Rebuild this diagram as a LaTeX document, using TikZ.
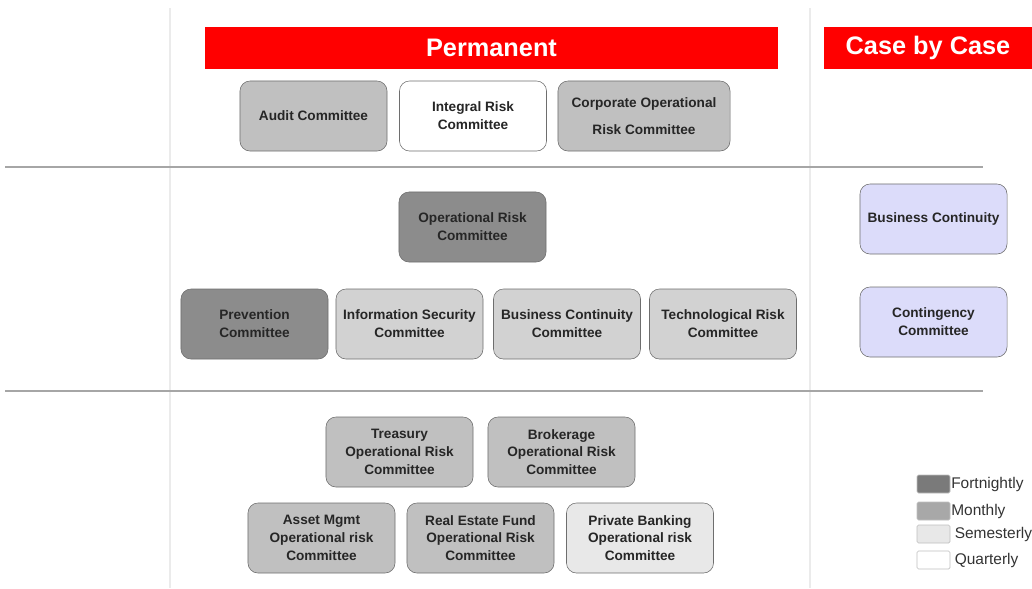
\documentclass[tikz,border=0pt]{standalone}
\usepackage{fontspec}
\setmainfont{Liberation Sans}
\usetikzlibrary{positioning}
\definecolor{barred}{HTML}{FF0000}
\definecolor{fortnight}{HTML}{8C8C8C}
\definecolor{monthly}{HTML}{C0C0C0}
\definecolor{monthlylight}{HTML}{D2D2D2}
\definecolor{semester}{HTML}{E8E8E8}
\definecolor{casebox}{HTML}{DCDCFA}
\definecolor{boxline}{HTML}{6E6E6E}
\definecolor{keydark}{HTML}{7A7A7A}
\definecolor{keymid}{HTML}{A8A8A8}
\tikzset{comm/.style = {draw=boxline, rounded corners=0.25cm,
                        minimum width=3.675cm, minimum height=1.75cm,
                        align=center, inner sep=1pt, text=black!85,
                        font=\fontsize{9.7}{12.7}\selectfont\bfseries}}
\tikzset{banner/.style = {fill=barred, text=white, inner sep=0,
                          minimum height=1.05cm,
                          font=\fontsize{18}{20}\selectfont\bfseries}}
\tikzset{sep/.style = {draw=black!35, line width=1.5pt}}
\tikzset{colline/.style = {draw=black!8, line width=0.8pt}}
\tikzset{swatch/.style = {draw=black!25, rounded corners=1pt, inner sep=0,
                          minimum width=0.825cm, minimum height=0.45cm}}
\tikzset{legtext/.style = {font=\fontsize{11}{12}\selectfont, text=black!80,
                           inner sep=0, anchor=west}}

\begin{document}
\begin{tikzpicture}[x=0.025cm, y=-0.025cm]
      \useasboundingbox (0, 0) rectangle (1032, 588);
      % column and row rules
      \draw [colline] (170, 8) -- (170, 588);
      \draw [colline] (810, 8) -- (810, 588);
      \draw [sep] (5, 167) -- (983, 167);
      \draw [sep] (5, 391) -- (983, 391);
      % headings
      \node [banner, minimum width=14.325cm] (perm) at (491.5, 48) {Permanent};
      \node [banner, minimum width=5.2cm] (case) at (928, 48) {Case by Case};
      % top level
      \node [comm, fill=monthly] (audit) at (313.5, 116) {Audit Committee};
      \node [comm, fill=white] (integral) at (473, 116) {Integral Risk\\Committee};
      \node [comm, fill=monthly, minimum width=4.3cm] (corporate) at (644, 116)
            {Corporate Operational\\[6pt]Risk Committee};
      % middle level
      \node [comm, fill=fortnight] (oprisk) at (472.5, 227) {Operational Risk\\Committee};
      \node [comm, fill=fortnight] (prevention) at (254.5, 324) {Prevention\\Committee};
      \node [comm, fill=monthlylight] (infosec) at (409.5, 324) {Information Security\\Committee};
      \node [comm, fill=monthlylight] (bccomm) at (567, 324) {Business Continuity\\Committee};
      \node [comm, fill=monthlylight] (techrisk) at (723, 324) {Technological Risk\\Committee};
      \node [comm, fill=casebox] (bcont) at (933.5, 219) {Business Continuity};
      \node [comm, fill=casebox] (contingency) at (933.5, 322) {Contingency\\Committee};
      % bottom level
      \node [comm, fill=monthly] (treasury) at (399.5, 452) {Treasury\\Operational Risk\\Committee};
      \node [comm, fill=monthly] (brokerage) at (561.5, 452) {Brokerage\\Operational Risk\\Committee};
      \node [comm, fill=monthly] (assetmgmt) at (321.5, 538) {Asset Mgmt\\Operational risk\\Committee};
      \node [comm, fill=monthly] (realestate) at (480.5, 538) {Real Estate Fund\\Operational Risk\\Committee};
      \node [comm, fill=semester] (privbank) at (640, 538) {Private Banking\\Operational risk\\Committee};
      % legend
      \node [swatch, fill=keydark] (swfort) at (933.5, 484) {};
      \node [swatch, fill=keymid] (swmonth) at (933.5, 511) {};
      \node [swatch, fill=semester] (swsem) at (933.5, 534) {};
      \node [swatch, fill=white] (swquart) at (933.5, 560) {};
      \node [legtext, right=0.5pt of swfort] (lbfort) {Fortnightly};
      \node [legtext, right=0.5pt of swmonth] (lbmonth) {Monthly};
      \node [legtext, right=3pt of swsem] (lbsem) {Semesterly};
      \node [legtext, right=3pt of swquart] (lbquart) {Quarterly};
    \end{tikzpicture}
\end{document}
